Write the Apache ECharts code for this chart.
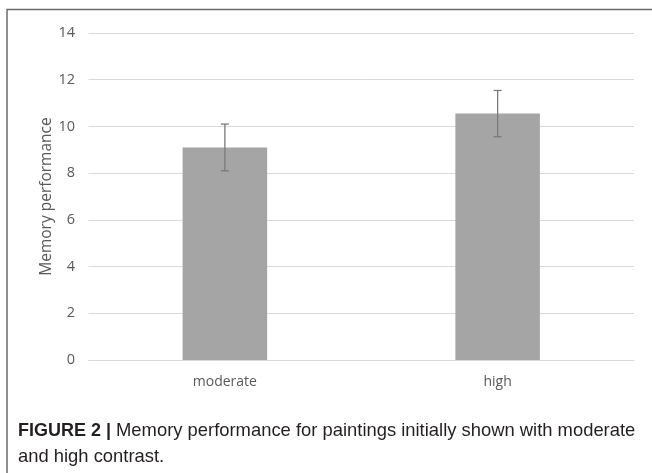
<!DOCTYPE html>
<html>
<head>
<meta charset="utf-8">
<script src="https://cdn.jsdelivr.net/npm/echarts@6/dist/echarts.min.js"></script>
<style>
html,body{margin:0;padding:0;background:#fff;}
#chart{width:652px;height:473px;}
</style>
</head>
<body>
<div id="chart"></div>
<script>
const categories = ['moderate', 'high'];
const means = [9.1, 10.55];
const errors = [1.0, 0.99];
const yTicks = [0, 2, 4, 6, 8, 10, 12, 14];

const chart = echarts.init(document.getElementById('chart'), null, {renderer: 'canvas'});

const errorData = categories.map((c, i) => [i, means[i] - errors[i], means[i] + errors[i]]);

const option = {
  backgroundColor: '#ffffff',
  animation: false,
  title: {
    left: 13,
    top: 413,
    text: '{b|FIGURE 2 |} {r|Memory performance for paintings initially shown with moderate}\n{r|and high contrast.}',
    textStyle: {
      fontWeight: 'normal',
      rich: {
        b: {fontFamily: 'Liberation Sans', fontWeight: 'bold', fontSize: 18, color: '#231f20', lineHeight: 26},
        r: {fontFamily: 'Liberation Sans', fontWeight: 'normal', fontSize: 18.4, color: '#231f20', lineHeight: 26}
      }
    }
  },
  grid: {left: 88.5, right: 18, top: 33, bottom: 113, containLabel: false},
  xAxis: {
    type: 'category',
    data: categories,
    axisLine: {show: true, lineStyle: {color: '#d9d9d9', width: 1}},
    axisTick: {show: false},
    axisLabel: {color: '#595959', fontFamily: 'Open Sans', fontSize: 14, margin: 15}
  },
  yAxis: {
    type: 'value',
    min: yTicks[0],
    max: yTicks[yTicks.length - 1],
    interval: 2,
    name: 'Memory performance',
    nameLocation: 'middle',
    nameGap: 34,
    nameMoveOverlap: false,
    nameTextStyle: {color: '#595959', fontFamily: 'Open Sans', fontSize: 15.5},
    axisLine: {show: false},
    axisTick: {show: false},
    axisLabel: {color: '#595959', fontFamily: 'Open Sans', fontSize: 14.5, margin: 13.5},
    splitLine: {lineStyle: {color: '#d9d9d9', width: 1}}
  },
  series: [
    {
      type: 'bar',
      data: means,
      barWidth: '31%',
      itemStyle: {color: '#a5a5a5'}
    },
    {
      type: 'custom',
      data: errorData,
      z: 10,
      renderItem: function (params, api) {
        const x = api.value(0);
        const lo = api.coord([x, api.value(1)]);
        const hi = api.coord([x, api.value(2)]);
        const hw = 4;
        const style = {stroke: '#7a7a7a', lineWidth: 1.3};
        return {
          type: 'group',
          children: [
            {type: 'line', shape: {x1: lo[0], y1: lo[1], x2: hi[0], y2: hi[1]}, style: style},
            {type: 'line', shape: {x1: lo[0] - hw, y1: lo[1], x2: lo[0] + hw, y2: lo[1]}, style: style},
            {type: 'line', shape: {x1: hi[0] - hw, y1: hi[1], x2: hi[0] + hw, y2: hi[1]}, style: style}
          ]
        };
      }
    }
  ],
  graphic: [
    {
      type: 'polyline',
      shape: {points: [[7, 473], [7, 9.5], [652, 9.5]]},
      style: {stroke: '#6b6b6b', lineWidth: 1.5, fill: null}
    }
  ]
};
chart.setOption(option);
</script>
</body>
</html>
